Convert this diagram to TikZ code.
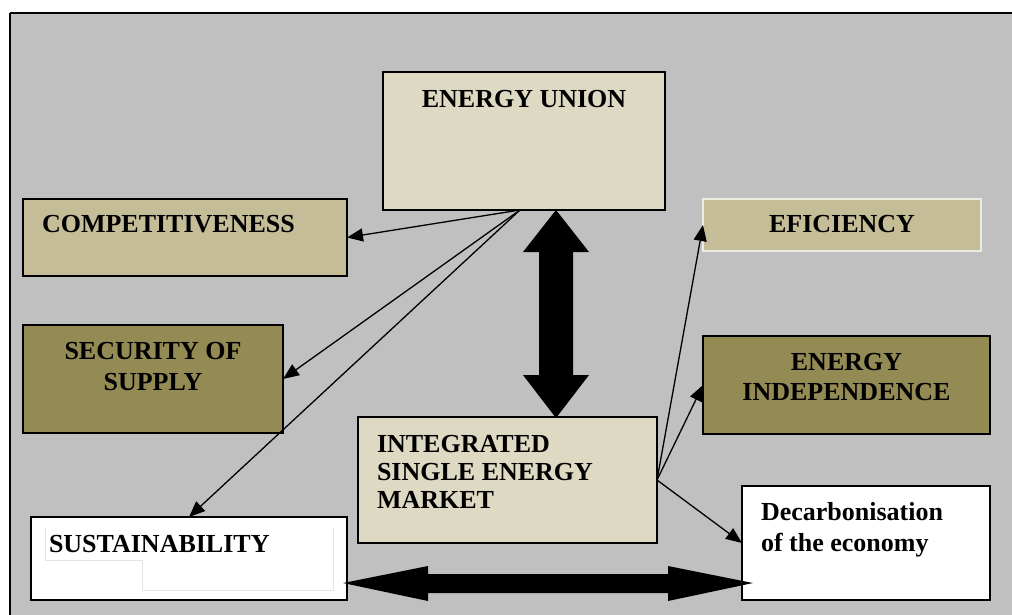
\documentclass[tikz,border=0pt]{standalone}
\usepackage{fontspec}
\setmainfont{Liberation Serif}
\usetikzlibrary{arrows.meta,calc}
\definecolor{bg}{HTML}{C0C0C0}
\definecolor{lightbox}{HTML}{DDD9C3}
\definecolor{midbox}{HTML}{C4BD97}
\definecolor{darkbox}{HTML}{948A54}
\definecolor{effborder}{HTML}{EEECE1}
\definecolor{faint}{HTML}{E4E4E4}
\begin{document}
\begin{tikzpicture}[x=1pt,y=-1pt,
  box/.style={draw=black, line width=1.5pt, inner sep=0pt, outer sep=0pt},
  lbl/.style={inner sep=0pt, outer sep=0pt, font=\fontsize{26}{31}\selectfont\bfseries},
  conn/.style={line width=1.3pt, -{Triangle[length=16pt,width=13pt]}},
  big/.style={fill=black}]
\useasboundingbox (0,0) rectangle (1012,615);
% background panel
\fill[bg] (10,13) rectangle (1012,615);
\draw[line width=2.5pt] (10,13) -- (1012,13);
\draw[line width=2pt] (10,13) -- (10,615);
% boxes
\node[box, fill=lightbox, minimum width=282pt, minimum height=138pt] (eu) at (524,141) {};
\node[box, fill=midbox, minimum width=324pt, minimum height=77pt] (comp) at (185,237.5) {};
\node[box, fill=darkbox, minimum width=260pt, minimum height=108pt] (sec) at (153,379) {};
\node[box, fill=white, minimum width=316pt, minimum height=83pt] (sust) at (189,558.5) {};
\node[box, fill=lightbox, minimum width=299pt, minimum height=126pt] (ism) at (507.5,480) {};
\node[box, draw=effborder, fill=midbox, minimum width=278pt, minimum height=52pt] (eff) at (842,225) {};
\node[box, fill=darkbox, minimum width=287pt, minimum height=98pt] (ind) at (846.5,385) {};
\node[box, fill=white, minimum width=248pt, minimum height=114pt] (dec) at (866,543) {};
% faint text frame inside sustainability box
\draw[faint, line width=1pt] (45,528) -- (45,560) -- (142,560) -- (142,590) -- (333,590) -- (333,528);
% labels
\node[lbl, anchor=north] (teu) at (524,90) {ENERGY UNION};
\node[lbl, anchor=north west] (tcomp) at (42,215) {COMPETITIVENESS};
\node[lbl, anchor=north, align=center] (tsec) at (153,342) {SECURITY OF\\SUPPLY};
\node[lbl, anchor=north west] (tsust) at (49,535) {SUSTAINABILITY};
\node[lbl, anchor=north west, align=left, font=\fontsize{26}{28}\selectfont\bfseries] (tism) at (377,435) {INTEGRATED\\SINGLE ENERGY\\MARKET};
\node[lbl, anchor=north] (teff) at (842,215) {EFICIENCY};
\node[lbl, anchor=north, align=center, font=\fontsize{26}{30}\selectfont\bfseries] (tind) at (846.5,353) {ENERGY\\INDEPENDENCE};
\node[lbl, anchor=north west, align=left] (tdec) at (761,502) {Decarbonisation\\of the economy};
% thin connectors
\coordinate (euo) at (520,210);
\draw[conn] (euo) -- (comp.east);
\draw[conn] (euo) -- (sec.east);
\draw[conn] (euo) -- (sust.north);
\draw[conn] (ism.east) -- (eff.west);
\draw[conn] (ism.east) -- (ind.west);
\draw[conn] (ism.east) -- (dec.west);
% big double arrows
\fill[big] (556,210) -- (589,252) -- (573,252) -- (573,375) -- (589,375) -- (556,418)
  -- (523,375) -- (539,375) -- (539,252) -- (523,252) -- cycle;
\fill[big] (343,583) -- (428,566) -- (428,574) -- (668,574) -- (668,566) -- (753,583)
  -- (668,601) -- (668,593) -- (428,593) -- (428,601) -- cycle;
\end{tikzpicture}
\end{document}
